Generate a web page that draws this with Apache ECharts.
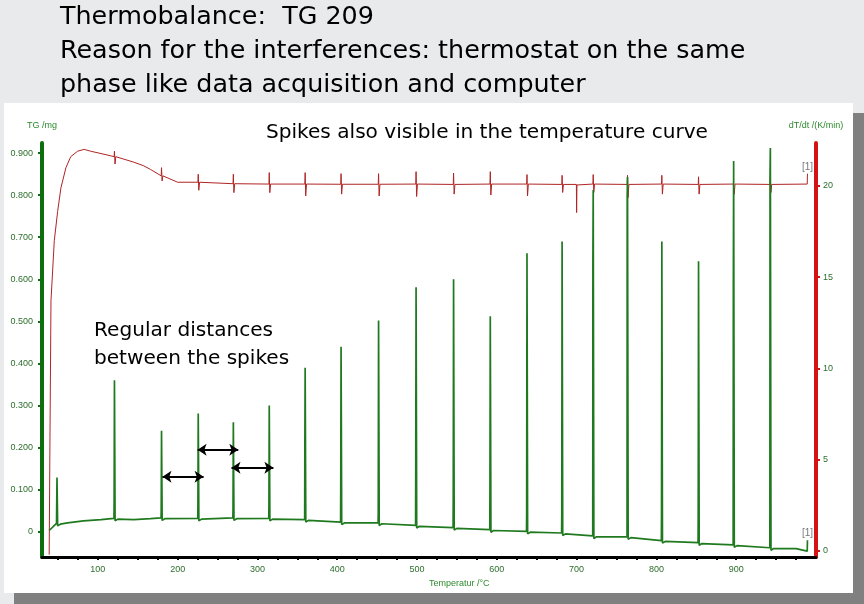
<!DOCTYPE html>
<html lang="en">
<head>
    <meta charset="UTF-8"/>
    <title>Thermobalance TG 209</title>
    <script src="https://cdn.jsdelivr.net/npm/echarts@6/dist/echarts.min.js"></script>
    <style>
        html, body { margin: 0; padding: 0; background: #e9eaeb; }
        #chart { width: 864px; height: 604px; }
    </style>
</head>
<body>
<div id="chart"></div>
<script type="text/javascript">
    // spike positions (°C)
    var spikeTemps = [49, 121, 180, 226, 270, 315, 360, 405, 452, 499, 546, 592, 638, 682, 721, 764, 807, 853, 897, 943];

    // TG /mg
    var tgPeaks     = [0.129, 0.360, 0.240, 0.281, 0.260, 0.300, 0.390, 0.440, 0.502, 0.581, 0.600, 0.512, 0.662, 0.690, 0.812, 0.843, 0.690, 0.643, 0.881, 0.912];
    var tgShoulders = [0.020, 0.072, 0.050, 0.060, 0.055, 0.060, 0.195, 0.105, 0.045, 0.152, 0.083, 0.112, 0.045, 0.045, 0.643, 0.800, 0.040, 0.040, 0.571, 0.850];
    var tgBase      = [0.020, 0.032, 0.033, 0.032, 0.033, 0.032, 0.029, 0.023, 0.021, 0.015, 0.010, 0.005, 0.001, -0.003, -0.010, -0.012, -0.021, -0.026, -0.031, -0.038];
    var tgCurveTemps  = [39, 44, 53, 62, 82, 104, 145, 166, 975, 989, 989.3];
    var tgCurveValues = [0.003, 0.012, 0.018, 0.021, 0.026, 0.029, 0.029, 0.031, -0.040, -0.046, -0.020];

    // dT/dt /(K/min)
    var dtCurveTemps  = [39, 40, 41.25, 45.4, 49.6, 53.75, 60, 66, 74.6, 82.9, 91, 104, 116, 145, 157.5, 166, 200, 989, 989.3];
    var dtCurveValues = [-0.2, 6.2, 13.7, 17.0, 18.6, 19.9, 21.0, 21.6, 21.9, 22.0, 21.9, 21.77, 21.65, 21.3, 21.1, 20.9, 20.2, 20.1, 20.67];
    var dtLevel = [null, 21.6, 20.55, 20.2, 20.12, 20.1, 20.1, 20.09, 20.09, 20.1, 20.08, 20.1, 20.1, 20.08, 20.1, 20.08, 20.1, 20.08, 20.1, 20.08];
    var dtUp    = [null, 21.9, 21.0, 20.64, 20.64, 20.73, 20.73, 20.67, 20.67, 20.78, 20.70, 20.78, 20.62, 20.58, 20.62, 20.58, 20.58, 20.50, 20.18, 20.45];
    var dtDown  = [null, 21.2, 20.27, 19.76, 19.63, 19.63, 19.45, 19.55, 19.45, 19.42, 19.55, 19.50, 19.45, 19.64, 19.64, 19.36, 19.55, 19.55, 19.55, 19.64];
    var dtDropTemp = 700, dtDropValue = 18.54;

    // double arrows (°C from, °C to, mg)
    var arrowFrom = [181, 225, 267.5];
    var arrowTo   = [232.5, 276, 320];
    var arrowAt   = [0.131, 0.195, 0.152];

    // ticks
    var xLabels = [100, 200, 300, 400, 500, 600, 700, 800, 900];
    var tgLabels = [0, 0.1, 0.2, 0.3, 0.4, 0.5, 0.6, 0.7, 0.8, 0.9];
    var dtLabels = [0, 5, 10, 15, 20];

    var xTicks = [];
    for (var t = 50; t <= 975; t += 25) xTicks.push(t);
    var tgMinor = [];
    for (var k = -2; k <= 46; k++) tgMinor.push(+(k * 0.02).toFixed(2));
    var dtMinor = [];
    for (var d = 0; d <= 22; d++) dtMinor.push(d);

    function buildTg() {
        var pts = [];
        for (var i = 0; i < tgCurveTemps.length; i++) pts.push([tgCurveTemps[i], tgCurveValues[i]]);
        spikeTemps.forEach(function (t, i) {
            var b = tgBase[i];
            pts.push([t - 0.8, b], [t - 0.6, tgShoulders[i]], [t - 0.2, tgPeaks[i]], [t + 0.6, b - 0.006], [t + 4, b - 0.002]);
        });
        pts.sort(function (a, b) { return a[0] - b[0]; });
        return pts;
    }

    function buildDt() {
        var pts = [];
        for (var i = 0; i < dtCurveTemps.length; i++) pts.push([dtCurveTemps[i], dtCurveValues[i]]);
        spikeTemps.forEach(function (t, i) {
            if (dtLevel[i] == null) return;
            pts.push([t - 0.6, dtLevel[i]], [t - 0.2, dtUp[i]], [t + 0.5, dtDown[i]], [t + 1.5, dtLevel[i]]);
        });
        pts.push([dtDropTemp - 0.3, 20.08], [dtDropTemp, dtDropValue], [dtDropTemp + 0.4, 20.05]);
        pts.sort(function (a, b) { return a[0] - b[0]; });
        return pts;
    }

    var green = '#1f7a1f';
    var axisGreen = '#0d6e0d';
    var labelGreen = '#2d6e2d';
    var red = '#b02424';

    var arrows = arrowFrom.map(function (x0, i) {
        return [{coord: [x0, arrowAt[i]]}, {coord: [arrowTo[i], arrowAt[i]]}];
    });

    var tgData = buildTg();
    var dtData = buildDt();

    function note(text, x, y, size) {
        return {
            type: 'text', z: 50,
            style: {text: text, x: x, y: y, verticalAlign: 'middle', font: size + 'px "DejaVu Sans"', fill: '#000'}
        };
    }

    var myChart = echarts.init(document.getElementById('chart'));
    var option = {
        animation: false,
        backgroundColor: '#e9eaeb',
        graphic: [
            {type: 'rect', z: -10, shape: {x: 14, y: 113, width: 850, height: 491}, style: {fill: '#808080'}},
            {type: 'rect', z: -9, shape: {x: 4, y: 103, width: 849, height: 490}, style: {fill: '#ffffff'}},
            note('Thermobalance:  TG 209', 60, 17, 25.4),
            note('Reason for the interferences: thermostat on the same', 60, 51, 25.4),
            note('phase like data acquisition and computer', 60, 85, 25.4),
            note('Spikes also visible in the temperature curve', 266, 133, 20.1),
            note('Regular distances', 94, 331, 20.1),
            note('between the spikes', 94, 359, 20.1)
        ],
        grid: {left: 42, right: 48, top: 143, bottom: 47},
        xAxis: {
            type: 'value', min: 30, max: 1000,
            name: 'Temperatur /°C', nameLocation: 'middle', nameGap: 17,
            nameTextStyle: {color: '#2f8a2f', fontSize: 9, fontFamily: 'Liberation Sans', align: 'left'},
            axisLine: {onZero: false, lineStyle: {color: '#000', width: 3}},
            axisTick: {customValues: xTicks, length: 3, lineStyle: {color: '#000', width: 2}},
            axisLabel: {customValues: xLabels, color: labelGreen, fontSize: 9, fontFamily: 'Liberation Sans', margin: 8},
            splitLine: {show: false}
        },
        yAxis: [
            {
                type: 'value', min: -0.06, max: 0.924, position: 'left',
                name: 'TG /mg', nameLocation: 'end', nameGap: 13,
                nameTextStyle: {color: '#2f8a2f', fontSize: 9, fontFamily: 'Liberation Sans'},
                axisLine: {show: true, lineStyle: {color: axisGreen, width: 4}},
                axisTick: {customValues: tgLabels, length: 4, lineStyle: {color: axisGreen, width: 2}},
                axisLabel: {
                    customValues: tgLabels, color: labelGreen, fontSize: 9, fontFamily: 'Liberation Sans', margin: 9,
                    formatter: function (v) { return v === 0 ? '0' : v.toFixed(3); }
                },
                splitLine: {show: false}
            },
            {
                type: 'value', min: -0.33, max: 22.35, position: 'right',
                name: 'dT/dt /(K/min)', nameLocation: 'end', nameGap: 13,
                nameTextStyle: {color: '#2f8a2f', fontSize: 9, fontFamily: 'Liberation Sans'},
                axisLine: {show: true, lineStyle: {color: '#d41414', width: 4}},
                axisTick: {customValues: dtLabels, length: 4, lineStyle: {color: '#d41414', width: 2}},
                axisLabel: {customValues: dtLabels, color: labelGreen, fontSize: 9, fontFamily: 'Liberation Sans', margin: 7},
                splitLine: {show: false}
            },
            {
                type: 'value', min: -0.06, max: 0.924, position: 'left',
                axisLine: {show: false},
                axisTick: {customValues: tgMinor, length: 2, lineStyle: {color: axisGreen, width: 2}},
                axisLabel: {show: false},
                splitLine: {show: false}
            },
            {
                type: 'value', min: -0.33, max: 22.35, position: 'right',
                axisLine: {show: false},
                axisTick: {customValues: dtMinor, length: 2, lineStyle: {color: '#d41414', width: 2}},
                axisLabel: {show: false},
                splitLine: {show: false}
            }
        ],
        series: [
            {
                name: 'dT/dt', type: 'line', yAxisIndex: 1, data: dtData,
                showSymbol: false, symbol: 'none',
                lineStyle: {color: red, width: 1},
                markPoint: {
                    symbol: 'circle', symbolSize: 1, itemStyle: {color: 'rgba(0,0,0,0)'},
                    label: {show: true, formatter: '[1]', position: 'top', distance: 1, color: '#777', fontSize: 10},
                    data: [{coord: dtData[dtData.length - 1]}]
                }
            },
            {
                name: 'TG', type: 'line', yAxisIndex: 0, data: tgData,
                showSymbol: false, symbol: 'none',
                lineStyle: {color: green, width: 1.7},
                markPoint: {
                    symbol: 'circle', symbolSize: 1, itemStyle: {color: 'rgba(0,0,0,0)'},
                    label: {show: true, formatter: '[1]', position: 'top', distance: 1, color: '#777', fontSize: 10},
                    data: [{coord: tgData[tgData.length - 1]}]
                },
                markLine: {
                    silent: true, symbol: ['arrow', 'arrow'], symbolSize: 9,
                    label: {show: false},
                    lineStyle: {color: '#000', width: 2, type: 'solid'},
                    data: arrows
                }
            }
        ]
    };
    myChart.setOption(option);
</script>
</body>
</html>
